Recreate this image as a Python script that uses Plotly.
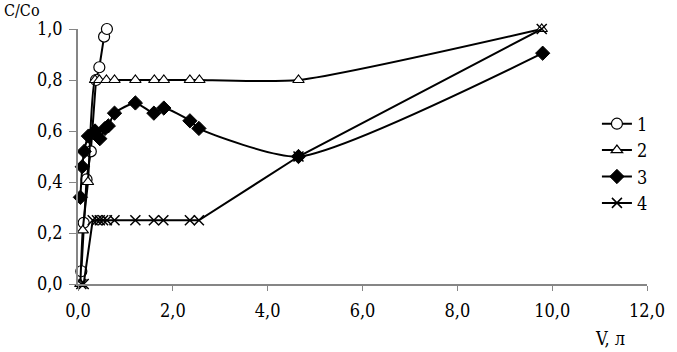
import plotly.graph_objects as go

# Series data (V, л ; C/Co)
v1 = [0.07, 0.12, 0.18, 0.27, 0.38, 0.45, 0.55, 0.61]
c1 = [0.05, 0.24, 0.41, 0.52, 0.80, 0.85, 0.97, 1.00]

v2 = [0.05, 0.10, 0.21, 0.36, 0.45, 0.60, 0.77, 1.21, 1.61, 1.81, 2.36, 2.56, 4.65, 9.78]
c2 = [0.00, 0.21, 0.40, 0.80, 0.80, 0.80, 0.80, 0.80, 0.80, 0.80, 0.80, 0.80, 0.80, 1.00]

v3 = [0.05, 0.09, 0.13, 0.22, 0.36, 0.46, 0.57, 0.64, 0.77, 1.21, 1.60, 1.81, 2.36, 2.55, 4.65, 9.80]
c3 = [0.34, 0.46, 0.52, 0.58, 0.60, 0.57, 0.61, 0.62, 0.67, 0.71, 0.67, 0.69, 0.64, 0.61, 0.50, 0.905]

v4 = [0.07, 0.12, 0.31, 0.40, 0.46, 0.53, 0.61, 0.77, 1.21, 1.60, 1.80, 2.36, 2.55, 4.65, 9.78]
c4 = [0.00, 0.00, 0.25, 0.25, 0.25, 0.25, 0.25, 0.25, 0.25, 0.25, 0.25, 0.25, 0.25, 0.50, 1.00]

names = ["1", "2", "3", "4"]

FONT = "DejaVu Serif Condensed, DejaVu Serif"
AX = "#868686"
FS = 18

fig = go.Figure()
fig.add_trace(go.Scatter(x=v1, y=c1, name=names[0], mode="lines+markers",
                         line=dict(color="black", width=2),
                         marker=dict(symbol="circle", size=11, color="white", line=dict(color="black", width=1.2)),
                         cliponaxis=False))
fig.add_trace(go.Scatter(x=v2, y=c2, name=names[1], mode="lines+markers",
                         line=dict(color="black", width=2, shape="spline", smoothing=0.6),
                         marker=dict(symbol="triangle-up", size=10, color="white", line=dict(color="black", width=1.2)),
                         cliponaxis=False))
fig.add_trace(go.Scatter(x=v3, y=c3, name=names[2], mode="lines+markers",
                         line=dict(color="black", width=2, shape="spline", smoothing=0.6),
                         marker=dict(symbol="diamond", size=11, color="black", line=dict(color="black", width=1)),
                         cliponaxis=False))
fig.add_trace(go.Scatter(x=v4, y=c4, name=names[3], mode="lines+markers",
                         line=dict(color="black", width=2),
                         marker=dict(symbol="x-thin", size=10, color="black", line=dict(color="black", width=1.5)),
                         cliponaxis=False))

fig.update_layout(
    width=677, height=352,
    margin=dict(l=78, r=18, t=29, b=68),
    paper_bgcolor="white", plot_bgcolor="white",
    separators=", ",
    font=dict(family=FONT, size=FS, color="black"),
    showlegend=True,
    legend=dict(x=0.912, y=0.70, xanchor="left", yanchor="top", bgcolor="rgba(0,0,0,0)",
                font=dict(family=FONT, size=FS), itemwidth=30),
    xaxis=dict(range=[0, 12], dtick=2, tickformat=".1f", showgrid=False, zeroline=False,
               showline=True, linecolor=AX, linewidth=1.5, ticks="outside", tickcolor=AX, ticklen=5,
               ticklabelstandoff=5, ticklabeloverflow="allow", tickfont=dict(family=FONT, size=FS)),
    yaxis=dict(range=[0, 1], dtick=0.2, tickformat=".1f", showgrid=False, zeroline=False,
               showline=True, linecolor=AX, linewidth=1.5, ticks="outside", tickcolor=AX, ticklen=7,
               ticklabelstandoff=3, tickfont=dict(family=FONT, size=FS)),
    annotations=[
        dict(text="C/Co", xref="paper", yref="paper", x=-0.134, y=1.116, xanchor="left", yanchor="top",
             showarrow=False, font=dict(family=FONT, size=16)),
        dict(text="V, л", xref="paper", yref="paper", x=0.965, y=-0.215, xanchor="right", yanchor="middle",
             showarrow=False, font=dict(family=FONT, size=FS)),
    ],
)

fig.write_html("out.html", config={"displayModeBar": False},
               post_script="document.body.style.margin='0';")
